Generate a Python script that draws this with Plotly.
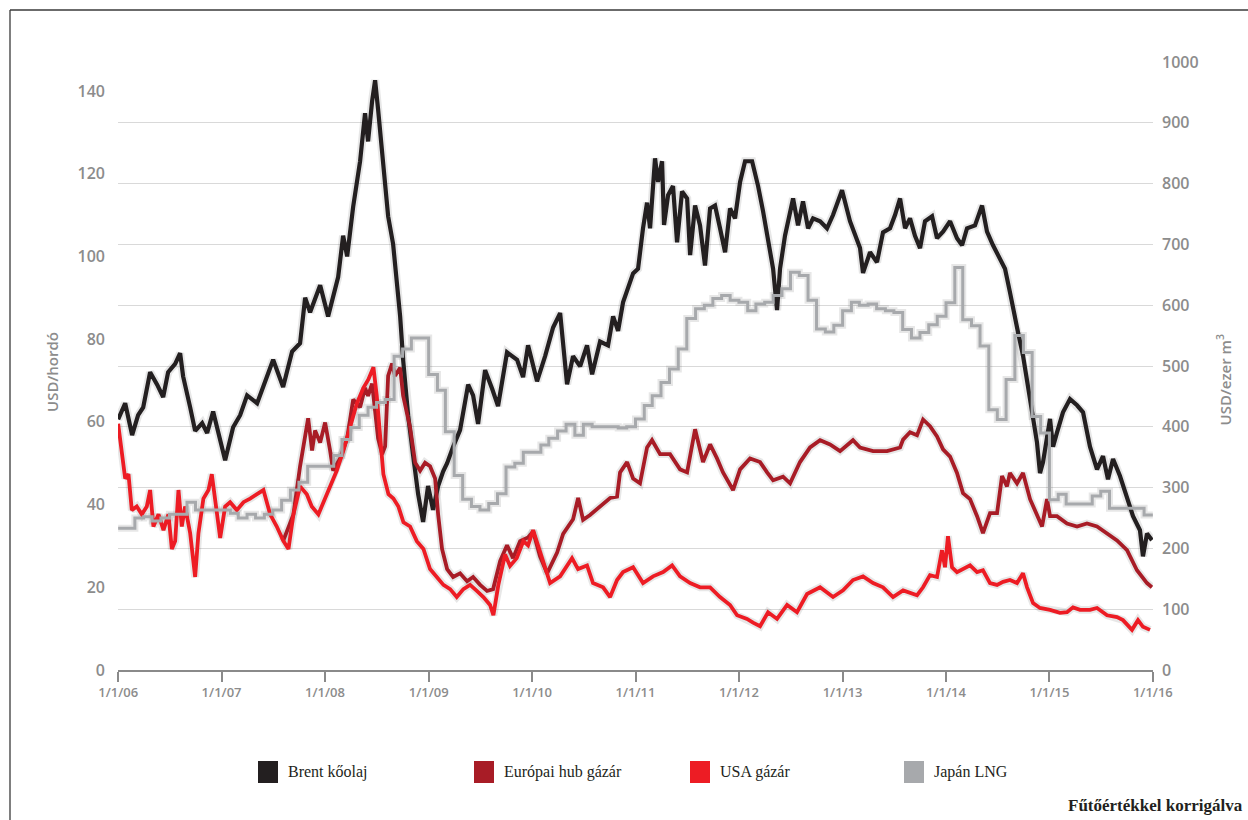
import numpy as np
import pandas as pd
import plotly.graph_objects as go

# ---------------- data ----------------
# Brent crude, USD/barrel (left axis); time as decimal years
brent_t = [2006.000, 2006.068, 2006.135, 2006.193, 2006.242, 2006.309, 2006.377, 2006.435, 2006.483, 2006.551,
           2006.599, 2006.628, 2006.696, 2006.744, 2006.812, 2006.860, 2006.918, 2006.966, 2007.034, 2007.111,
           2007.179, 2007.246, 2007.343, 2007.401, 2007.498, 2007.594, 2007.681, 2007.758, 2007.807, 2007.855,
           2007.952, 2008.029, 2008.126, 2008.174, 2008.213, 2008.271, 2008.338, 2008.386, 2008.415, 2008.454,
           2008.483, 2008.512, 2008.560, 2008.609, 2008.657, 2008.696, 2008.725, 2008.754, 2008.802, 2008.850,
           2008.899, 2008.947, 2008.995, 2009.043, 2009.092, 2009.140, 2009.179, 2009.237, 2009.304, 2009.382,
           2009.430, 2009.478, 2009.546, 2009.614, 2009.671, 2009.758, 2009.855, 2009.913, 2009.961, 2010.048,
           2010.126, 2010.203, 2010.271, 2010.338, 2010.396, 2010.464, 2010.531, 2010.580, 2010.657, 2010.734,
           2010.783, 2010.831, 2010.879, 2010.976, 2011.024, 2011.072, 2011.111, 2011.140, 2011.188, 2011.217,
           2011.256, 2011.275, 2011.314, 2011.362, 2011.401, 2011.449, 2011.498, 2011.527, 2011.575, 2011.623,
           2011.671, 2011.720, 2011.768, 2011.816, 2011.865, 2011.913, 2011.961, 2012.010, 2012.058, 2012.126,
           2012.184, 2012.232, 2012.280, 2012.329, 2012.367, 2012.396, 2012.444, 2012.522, 2012.570, 2012.618,
           2012.667, 2012.715, 2012.783, 2012.850, 2012.908, 2012.995, 2013.072, 2013.169, 2013.198, 2013.266,
           2013.333, 2013.391, 2013.459, 2013.507, 2013.556, 2013.604, 2013.652, 2013.700, 2013.749, 2013.797,
           2013.865, 2013.913, 2013.971, 2014.039, 2014.106, 2014.155, 2014.203, 2014.280, 2014.348, 2014.396,
           2014.454, 2014.522, 2014.570, 2014.618, 2014.667, 2014.696, 2014.744, 2014.783, 2014.831, 2014.879,
           2014.908, 2014.937, 2015.005, 2015.034, 2015.072, 2015.130, 2015.198, 2015.266, 2015.324, 2015.391,
           2015.459, 2015.517, 2015.565, 2015.614, 2015.681, 2015.749, 2015.807, 2015.874, 2015.903, 2015.942,
           2015.990]
brent_v = [60.6, 64.5, 56.8, 61.6, 63.5, 72, 69, 66, 72, 74,
           76.6, 71, 63.5, 57.8, 59.7, 57.3, 62.5, 57.8, 50.7, 58.7,
           61.6, 66.4, 64.5, 68.4, 75, 68.4, 77, 79, 90, 86.5,
           93, 85.5, 95, 105, 100, 112, 123, 134.6, 127.8, 137.5,
           142.6, 135.5, 122, 109.7, 103, 94, 85.5, 75, 61.6, 52,
           42.5, 35.8, 44.5, 38.7, 44.5, 48, 50, 54, 58, 69,
           66.4, 59.5, 72.5, 68, 63.8, 76.8, 75, 70.8, 78.5, 69.8,
           75.9, 82.8, 86.3, 69.1, 75.9, 73.4, 78.5, 71.5, 79.4, 78.5,
           85.5, 82, 88.9, 95.9, 97, 106.8, 113, 106.8, 123.7, 118,
           123, 107.6, 114.8, 117, 103.4, 115.7, 114, 100.3, 112.3, 107.5,
           97.8, 111.6, 112.3, 106.8, 101, 111.6, 109.2, 118, 123, 123,
           117, 110.9, 104.4, 97, 87, 97, 105, 114, 107.5, 113.3,
           106.8, 109.2, 108.5, 106.8, 110, 116, 108.5, 102, 96, 101,
           98.6, 105.8, 106.8, 110, 114, 106.8, 109.2, 105, 102, 108.5,
           109.7, 104.4, 106, 108.5, 104.4, 102.7, 106.8, 107.5, 112.3, 106,
           102.7, 99.5, 97, 91.3, 84.8, 81.6, 76, 69.6, 62.3, 55,
           47.6, 50.2, 60.7, 54, 57.4, 62.3, 65.5, 64, 62.3, 54,
           48.5, 51.7, 46.1, 51, 46.9, 41.3, 37.2, 33.8, 27.5, 33,
           31.4]

# European hub gas price, USD / 1000 m3 (right axis)
eu_t = [2007.594, 2007.694, 2007.758, 2007.807, 2007.836, 2007.874, 2007.903, 2007.952, 2008.000, 2008.048,
        2008.077, 2008.145, 2008.213, 2008.271, 2008.338, 2008.386, 2008.415, 2008.454, 2008.483, 2008.512,
        2008.551, 2008.580, 2008.609, 2008.647, 2008.676, 2008.725, 2008.754, 2008.792, 2008.821, 2008.870,
        2008.918, 2008.966, 2009.014, 2009.063, 2009.092, 2009.130, 2009.179, 2009.237, 2009.304, 2009.372,
        2009.430, 2009.498, 2009.565, 2009.623, 2009.691, 2009.758, 2009.816, 2009.884, 2009.961, 2010.010,
        2010.077, 2010.145, 2010.242, 2010.300, 2010.396, 2010.445, 2010.493, 2010.560, 2010.657, 2010.754,
        2010.821, 2010.850, 2010.918, 2010.976, 2011.043, 2011.111, 2011.159, 2011.237, 2011.333, 2011.430,
        2011.498, 2011.575, 2011.652, 2011.720, 2011.787, 2011.845, 2011.942, 2012.010, 2012.106, 2012.203,
        2012.271, 2012.329, 2012.425, 2012.493, 2012.589, 2012.686, 2012.783, 2012.879, 2012.976, 2013.101,
        2013.169, 2013.295, 2013.430, 2013.556, 2013.585, 2013.652, 2013.720, 2013.778, 2013.845, 2013.913,
        2013.971, 2014.039, 2014.106, 2014.164, 2014.232, 2014.300, 2014.357, 2014.425, 2014.493, 2014.541,
        2014.589, 2014.618, 2014.686, 2014.744, 2014.812, 2014.879, 2014.928, 2014.976, 2015.005, 2015.072,
        2015.169, 2015.266, 2015.362, 2015.459, 2015.556, 2015.652, 2015.749, 2015.845, 2015.942, 2015.990]
eu_v = [212, 256, 335, 381, 414, 361, 394, 374, 407, 361,
        328, 348, 381, 445, 432, 464, 451, 471, 432, 381,
        355, 368, 484, 504, 484, 497, 451, 425, 399, 341,
        328, 341, 335, 315, 256, 199, 166, 153, 159, 146,
        153, 140, 130, 133, 179, 205, 184, 212, 218, 228,
        187, 159, 193, 224, 248, 283, 247, 255, 270, 283,
        285, 325, 342, 315, 307, 366, 378, 355, 355, 330,
        325, 396, 342, 371, 348, 325, 296, 330, 348, 342,
        325, 312, 318, 307, 342, 366, 378, 371, 360, 378,
        366, 360, 360, 366, 379, 391, 386, 412, 401, 384,
        363, 351, 324, 291, 281, 253, 225, 258, 258, 319,
        302, 324, 307, 324, 281, 253, 236, 281, 253, 253,
        241, 236, 241, 236, 225, 213, 197, 164, 143, 136]

# US gas price, USD / 1000 m3 (right axis)
us_t = [2006.000, 2006.035, 2006.068, 2006.100, 2006.132, 2006.180, 2006.229, 2006.277, 2006.309, 2006.341,
        2006.390, 2006.438, 2006.486, 2006.519, 2006.551, 2006.583, 2006.615, 2006.647, 2006.696, 2006.744,
        2006.776, 2006.824, 2006.873, 2006.905, 2006.937, 2006.986, 2007.034, 2007.082, 2007.147, 2007.211,
        2007.275, 2007.340, 2007.404, 2007.469, 2007.533, 2007.597, 2007.646, 2007.694, 2007.758, 2007.823,
        2007.871, 2007.935, 2008.000, 2008.048, 2008.113, 2008.177, 2008.242, 2008.306, 2008.370, 2008.418,
        2008.467, 2008.499, 2008.531, 2008.563, 2008.612, 2008.660, 2008.708, 2008.757, 2008.821, 2008.886,
        2008.950, 2009.014, 2009.079, 2009.143, 2009.208, 2009.272, 2009.336, 2009.401, 2009.466, 2009.529,
        2009.594, 2009.626, 2009.674, 2009.739, 2009.787, 2009.852, 2009.916, 2009.961, 2010.010, 2010.077,
        2010.174, 2010.271, 2010.386, 2010.444, 2010.531, 2010.589, 2010.686, 2010.754, 2010.821, 2010.879,
        2010.976, 2011.072, 2011.169, 2011.266, 2011.353, 2011.430, 2011.527, 2011.623, 2011.720, 2011.816,
        2011.913, 2011.981, 2012.077, 2012.135, 2012.203, 2012.280, 2012.367, 2012.464, 2012.560, 2012.657,
        2012.783, 2012.908, 2013.005, 2013.101, 2013.198, 2013.295, 2013.391, 2013.488, 2013.585, 2013.720,
        2013.778, 2013.845, 2013.913, 2013.961, 2013.990, 2014.019, 2014.058, 2014.106, 2014.164, 2014.232,
        2014.300, 2014.357, 2014.425, 2014.493, 2014.551, 2014.618, 2014.686, 2014.744, 2014.783, 2014.841,
        2014.908, 2015.005, 2015.101, 2015.169, 2015.227, 2015.295, 2015.391, 2015.459, 2015.556, 2015.652,
        2015.710, 2015.797, 2015.855, 2015.903, 2015.971]
us_v = [405, 353, 315, 322, 263, 269, 256, 269, 296, 236,
        256, 230, 256, 199, 212, 296, 236, 269, 225, 153,
        225, 282, 296, 322, 276, 217, 269, 276, 263, 276,
        282, 289, 296, 256, 236, 212, 199, 256, 302, 289,
        269, 256, 282, 302, 328, 361, 399, 438, 464, 478,
        498, 451, 386, 322, 289, 282, 269, 243, 236, 212,
        199, 166, 153, 140, 133, 120, 133, 140, 130, 120,
        107, 90, 140, 190, 171, 184, 212, 205, 230, 195,
        143, 154, 184, 166, 172, 143, 136, 120, 148, 161,
        169, 143, 154, 161, 172, 154, 143, 136, 136, 120,
        107, 90, 84, 78, 72, 95, 84, 107, 95, 125,
        136, 120, 131, 148, 154, 143, 136, 120, 131, 123,
        136, 156, 153, 197, 169, 220, 169, 161, 166, 172,
        161, 164, 143, 140, 145, 148, 143, 159, 136, 110,
        102, 99, 94, 95, 103, 99, 99, 102, 90, 87,
        82, 66, 82, 71, 66]

# Japanese LNG import price, USD / 1000 m3 (right axis), monthly, Jan 2006 - Jan 2016
jp_months = pd.date_range("2006-01-01", "2016-01-01", freq="MS")
jp_v = [233, 233, 250, 252, 245, 250, 256, 256, 276, 263, 263, 263,
        263, 258, 250, 256, 250, 256, 263, 279, 296, 309, 335, 335,
        335, 353, 379, 399, 419, 432, 440, 445, 516, 528, 546, 546,
        486, 460, 392, 320, 281, 269, 263, 274, 290, 334, 340, 358,
        358, 370, 381, 393, 404, 386, 404, 400, 400, 400, 398, 400,
        413, 435, 451, 473, 495, 528, 578, 594, 600, 611, 616, 608,
        605, 591, 602, 605, 616, 627, 654, 649, 608, 561, 556, 567,
        591, 605, 600, 602, 594, 591, 588, 560, 546, 555, 568, 582,
        604, 662, 576, 566, 533, 428, 412, 478, 550, 522, 417, 390,
        280, 289, 273, 273, 273, 286, 294, 266, 266, 266, 266, 255,
        255]

x_ticks = pd.date_range("2006-01-01", "2016-01-01", freq="YS")
y_left_ticks = [0, 20, 40, 60, 80, 100, 120, 140]
y_right_ticks = [0, 100, 200, 300, 400, 500, 600, 700, 800, 900, 1000]

legend_names = ["Brent kőolaj", "Európai hub gázár", "USA gázár", "Japán LNG"]
legend_colors = ["#231f20", "#a81c26", "#ed1c24", "#a7a9ac"]


def to_dates(t):
    t = np.asarray(t, dtype=float)
    return pd.Timestamp("2006-01-01") + pd.to_timedelta((t - 2006.0) * 365.25, unit="D")


# ---------------- figure ----------------
W, H = 1248, 820
L, R, T, B = 118, 95, 62, 150
PW, PH = W - L - R, H - T - B


def px(xp):
    return (xp - L) / PW


def py(yp):
    return (H - B - yp) / PH


fig = go.Figure()

series = [
    (to_dates(eu_t), eu_v, "y2", legend_colors[1], 3.8, "linear"),
    (to_dates(us_t), us_v, "y2", legend_colors[2], 3.8, "linear"),
    (jp_months, jp_v, "y2", legend_colors[3], 3.0, "hv"),
    (to_dates(brent_t), brent_v, "y", "#231f20", 4.2, "linear"),
]

# soft shadows
for xs, ys, ax, col, w, shp in series:
    fig.add_trace(go.Scatter(x=xs, y=ys, yaxis=ax, mode="lines",
                             line=dict(color="rgba(60,60,60,0.12)", width=w + 4, shape=shp),
                             hoverinfo="skip", showlegend=False))
for xs, ys, ax, col, w, shp in series:
    fig.add_trace(go.Scatter(x=xs, y=ys, yaxis=ax, mode="lines",
                             line=dict(color=col, width=w, shape=shp),
                             showlegend=False))

tick_font = dict(family="Open Sans", size=16, color="#8c8c8c", weight=600)

fig.update_layout(
    width=W, height=H,
    margin=dict(l=L, r=R, t=T, b=B),
    paper_bgcolor="white", plot_bgcolor="white",
    showlegend=False,
    xaxis=dict(
        type="date",
        range=["2005-12-31 12:00", "2016-01-01 12:00"],
        tickvals=x_ticks,
        ticktext=[d.strftime("%-m/%-d/%y") for d in x_ticks],
        ticks="outside", ticklen=10, tickwidth=1.5, tickcolor="#8a8a8a",
        showline=True, linecolor="#8a8a8a", linewidth=1.5,
        showgrid=False, zeroline=False,
        tickfont=dict(family="Open Sans", size=13, color="#8c8c8c", weight=600),
    ),
    yaxis=dict(
        range=[0, 147], tickvals=y_left_ticks,
        showgrid=False, zeroline=False, showline=False, ticks="",
        tickfont=tick_font, ticklabelstandoff=12,
    ),
    yaxis2=dict(
        range=[0, 1000], tickvals=y_right_ticks, overlaying="y", side="right",
        showgrid=True, gridcolor="#d9d9d9", gridwidth=1.3,
        zeroline=False, showline=False, ticks="",
        tickfont=tick_font, ticklabelstandoff=8,
    ),
)

ann = []
# axis titles
ann.append(dict(x=px(40), y=py(372), xref="paper", yref="paper", text="USD/hordó",
                textangle=-90, showarrow=False,
                font=dict(family="Open Sans", size=15, color="#8c8c8c", weight=600)))
ann.append(dict(x=px(1236), y=py(380), xref="paper", yref="paper", text="USD/ezer m<sup>3</sup>",
                textangle=-90, showarrow=False,
                font=dict(family="Open Sans", size=15, color="#8c8c8c", weight=600)))

# manual legend
sq_left = [258, 474, 690, 904]
shapes = []
for x0, name, col in zip(sq_left, legend_names, legend_colors):
    shapes.append(dict(type="rect", xref="paper", yref="paper",
                       x0=px(x0), x1=px(x0 + 20), y0=py(783), y1=py(761),
                       fillcolor=col, line=dict(width=0)))
    ann.append(dict(x=px(x0 + 28), y=py(772), xref="paper", yref="paper", text=name,
                    xanchor="left", yanchor="middle", showarrow=False,
                    font=dict(family="Liberation Serif", size=16, color="#231f20")))

ann.append(dict(x=px(1245), y=py(805), xref="paper", yref="paper", text="Fűtőértékkel korrigálva",
                xanchor="right", yanchor="middle", showarrow=False,
                font=dict(family="Liberation Serif", size=17, color="#231f20", weight=600)))

# frame lines
shapes.append(dict(type="line", xref="paper", yref="paper", x0=px(10), x1=px(1250),
                   y0=py(10), y1=py(10), line=dict(color="#3a3a3a", width=1.3)))
shapes.append(dict(type="line", xref="paper", yref="paper", x0=px(10), x1=px(10),
                   y0=py(10), y1=py(822), line=dict(color="#3a3a3a", width=1.3)))

fig.update_layout(annotations=ann, shapes=shapes)

fig.write_html("out.html", config={"displayModeBar": False},
               post_script="document.body.style.margin='0';")
